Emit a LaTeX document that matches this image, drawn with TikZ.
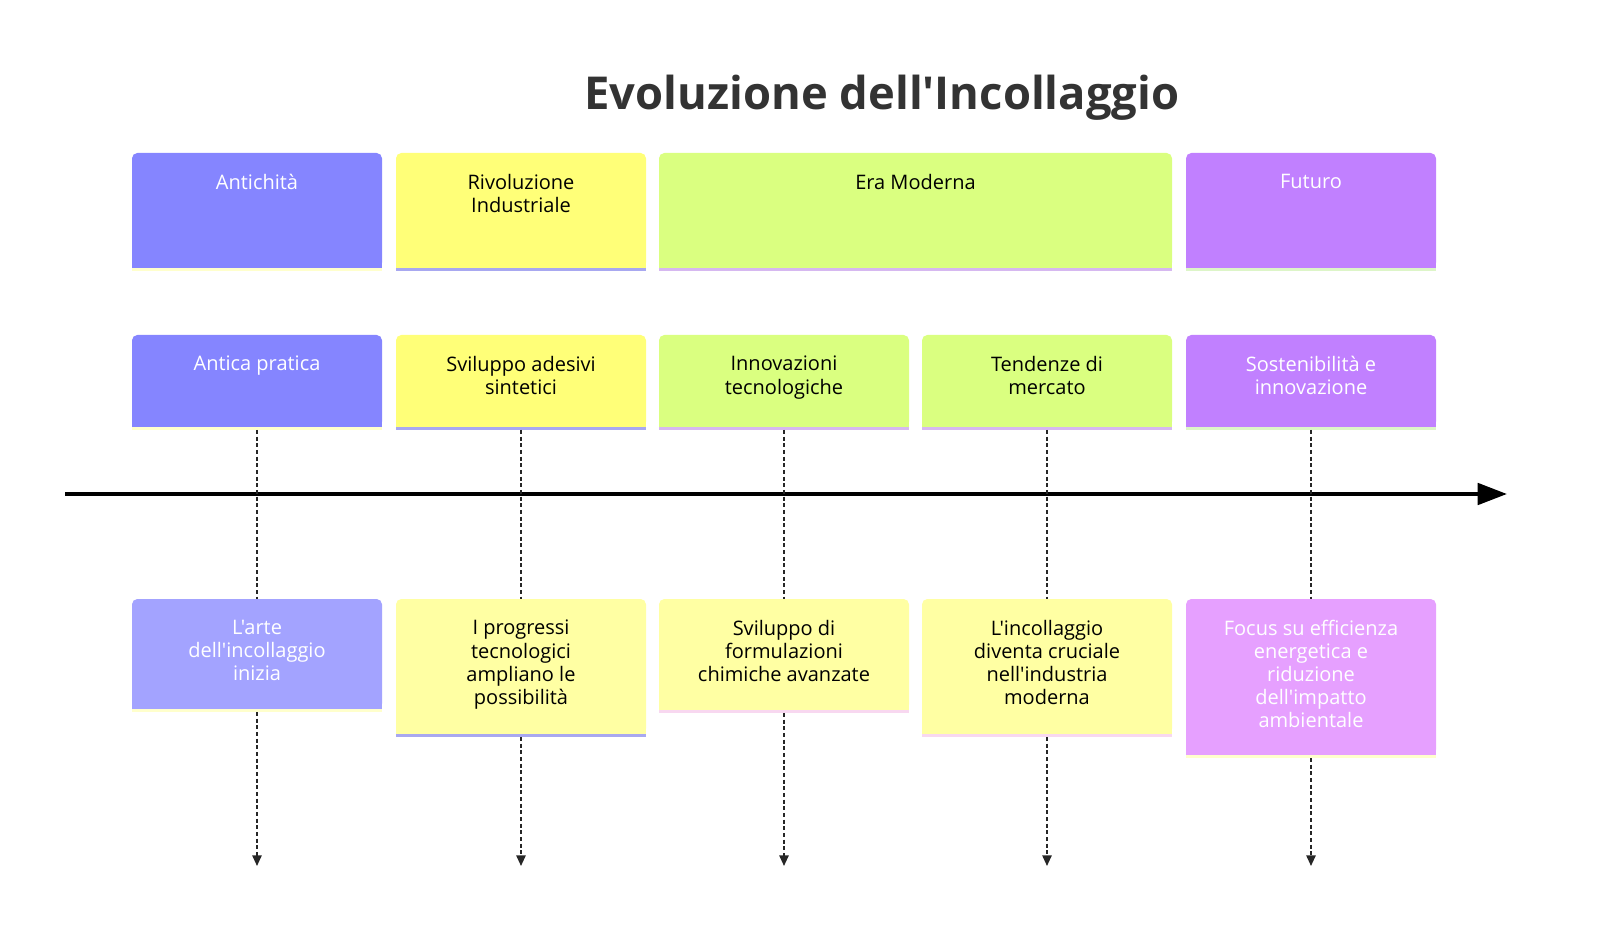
\documentclass[tikz,border=0pt]{standalone}
\usepackage{fontspec}
\setmainfont{Open Sans}[Ligatures=TeXOff]
\usetikzlibrary{arrows.meta}
\definecolor{cA}{HTML}{8585FF}
\definecolor{cB}{HTML}{FFFF78}
\definecolor{cC}{HTML}{DAFF80}
\definecolor{cD}{HTML}{C180FF}
\definecolor{eA}{HTML}{A3A3FF}
\definecolor{eB}{HTML}{FFFFA3}
\definecolor{eD}{HTML}{E6A0FF}
\definecolor{sA}{HTML}{FFFFCC}
\definecolor{sB}{HTML}{A8A8F0}
\definecolor{sC}{HTML}{D6B8F0}
\definecolor{sD}{HTML}{DDF5C8}
\definecolor{sE}{HTML}{F8D8F0}
\definecolor{tit}{HTML}{333333}
\tikzset{
 lbl/.style={font=\fontsize{15}{17.3}\selectfont, align=center, anchor=north, inner sep=0pt},
 dline/.style={densely dashed, line width=1.3pt, black!85},
 darr/.style={dline, -{Triangle[width=7pt,length=8pt]}},
}
\newcommand{\bx}[8]{%
 \fill[#6, rounded corners=4pt] (#2,#3) rectangle ++(#4,#5);%
 \fill[#6] (#2,#3+#5-6) rectangle ++(#4,6);%
 \fill[#7] (#2,#3+#5) rectangle ++(#4,3);%
 \coordinate (#1t) at (#2+#4/2,#3);%
 \coordinate (#1b) at (#2+#4/2,#3+#5+3);%
 \node[lbl] (#1l) at (#2+#4/2,#3+21) {#8};%
}
\begin{document}
\begin{tikzpicture}[x=0.75pt,y=-0.75pt]
\node[font=\fontsize{34}{40}\selectfont\bfseries, text=tit] (title) at (882,98) {Evoluzione dell'Incollaggio};
% sections
\bx{s1}{132}{153}{250}{115}{cA}{sA}{\color{white}Antichità}
\bx{s2}{396}{153}{250}{115}{cB}{sB}{Rivoluzione\\Industriale}
\bx{s3}{659}{153}{513}{115}{cC}{sC}{Era Moderna}
\bx{s4}{1186}{153}{250}{115}{cD}{sD}{\color{white}Futuro}
% tasks
\bx{t1}{132}{335}{250}{92}{cA}{sA}{\color{white}Antica pratica}
\bx{t2}{396}{335}{250}{92}{cB}{sB}{Sviluppo adesivi\\sintetici}
\bx{t3}{659}{335}{250}{92}{cC}{sC}{Innovazioni\\tecnologiche}
\bx{t4}{922}{335}{250}{92}{cC}{sC}{Tendenze di\\mercato}
\bx{t5}{1186}{335}{250}{92}{cD}{sD}{\color{white}Sostenibilità e\\\color{white}innovazione}
% events
\bx{e1}{132}{599}{250}{110}{eA}{sA}{\color{white}L'arte\\\color{white}dell'incollaggio\\\color{white}inizia}
\bx{e2}{396}{599}{250}{135}{eB}{sB}{I progressi\\tecnologici\\ampliano le\\possibilità}
\bx{e3}{659}{599}{250}{111}{eB}{sE}{Sviluppo di\\formulazioni\\chimiche avanzate}
\bx{e4}{922}{599}{250}{135}{eB}{sE}{L'incollaggio\\diventa cruciale\\nell'industria\\moderna}
\bx{e5}{1186}{599}{250}{156}{eD}{sA}{\color{white}Focus su efficienza\\\color{white}energetica e\\\color{white}riduzione\\\color{white}dell'impatto\\\color{white}ambientale}
% axis
\coordinate (axs) at (65,494);
\coordinate (axe) at (1507,494);
\draw[line width=3pt, -{Triangle[width=16pt,length=22pt]}] (axs) -- (axe);
\foreach \i/\x in {1/257,2/521,3/784,4/1047,5/1311}{
 \draw[dline] (t\i b) -- (e\i t);
 \coordinate (end\i) at (\x,866);
 \draw[darr] (e\i b) -- (end\i);
}
\pgfresetboundingbox
\path[use as bounding box] (0,0) rectangle (1600,948);
\end{tikzpicture}
\end{document}
